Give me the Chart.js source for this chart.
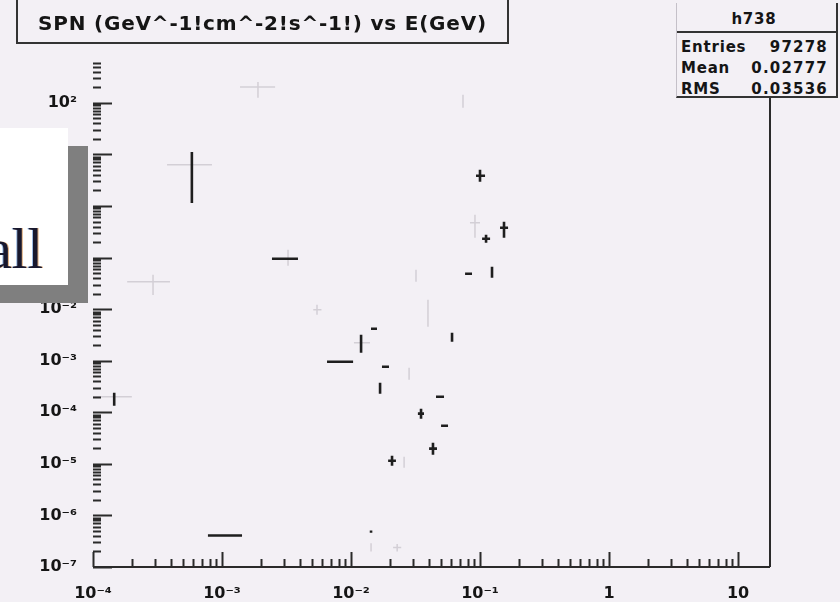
<!DOCTYPE html>
<html>
<head>
<meta charset="utf-8">
<script src="https://cdn.jsdelivr.net/npm/chart.js@4.4.0/dist/chart.umd.min.js"></script>
<style>
  html, body { margin: 0; padding: 0; background: #f3f0f5; }
  #wrap { position: relative; width: 840px; height: 602px; overflow: hidden; background: #f3f0f5; }
  #chart { position: absolute; left: 0; top: 0; }
  .txt { position: absolute; font-family: "DejaVu Sans", sans-serif; font-weight: bold; color: #151515; white-space: nowrap; }
  #title { position: absolute; left: 16px; top: 0; width: 489px; height: 42px; border-left: 2px solid #333; border-right: 2px solid #333; border-bottom: 2px solid #333; }
  #titleText { left: 0; width: 489px; top: 12px; font-size: 20px; letter-spacing: 0.8px; text-align: center; line-height: 22px; }
  #stats { position: absolute; left: 676px; top: 3px; width: 159px; height: 93px; border-left: 1px solid #c4c0c8; border-right: 2px solid #333; border-bottom: 2px solid #333; background: #f3f0f5; }
  #statsLine { position: absolute; left: 0; top: 28px; width: 159px; height: 0; border-top: 2px solid #333; }
  .sl { left: 4px; font-size: 15px; line-height: 16px; letter-spacing: 0.8px; }
  .sv { right: 8px; font-size: 15px; line-height: 16px; letter-spacing: 1.2px; }
  #box { position: absolute; left: -20px; top: 128px; width: 88px; height: 157px; background: #ffffff; box-shadow: 20px 18px 0 #7f7f7f; }
  #all { position: absolute; left: -13px; top: 221px; font-family: "Liberation Serif", "Times New Roman", serif; font-size: 56px; line-height: 56px; color: #18182e; text-shadow: 1px 0 0 rgba(200,120,40,0.6), -1px 0 0 rgba(60,120,200,0.5); }
</style>
</head>
<body>
<div id="wrap">
  <canvas id="chart" width="840" height="602"></canvas>
  <div id="title"><div class="txt" id="titleText">SPN (GeV^-1!cm^-2!s^-1!) vs E(GeV)</div></div>
  <div id="stats">
    <div class="txt" style="left:0;width:154px;text-align:center;top:8px;font-size:15px;line-height:16px;letter-spacing:0.8px;">h738</div>
    <div id="statsLine"></div>
    <div class="txt sl" style="top:36px;">Entries</div><div class="txt sv" style="top:36px;">97278</div>
    <div class="txt sl" style="top:57px;">Mean</div><div class="txt sv" style="top:57px;">0.02777</div>
    <div class="txt sl" style="top:78px;">RMS</div><div class="txt sv" style="top:78px;">0.03536</div>
  </div>
  <div id="box"></div>
  <div id="all">all</div>
</div>
<script>
// ---------------- DATA ----------------
// dark (well printed) marks: bin centre, bin edges, value, error range
const darkE      = [5.84e-4, 3.25e-3, 8.22e-3, 0.01197, 0.01508, 0.01837, 0.0168, 0.0807, 0.1239, 0.0607, 0.049, 0.0349, 0.0526, 0.0432, 0.0208, 0.1, 0.1114, 0.1535, 1.46e-4, 1.05e-3, 0.0143];
const darkELo    = [5.84e-4, 2.44e-3, 6.52e-3, 0.01197, 0.01429, 0.01738, 0.0168, 0.0766, 0.1239, 0.0607, 0.0456, 0.033, 0.0499, 0.0403, 0.0194, 0.0931, 0.1038, 0.143, 1.46e-4, 7.78e-4, 0.0143];
const darkEHi    = [5.84e-4, 3.88e-3, 0.01038, 0.01197, 0.0159, 0.0197, 0.0168, 0.0867, 0.1239, 0.0607, 0.0526, 0.0368, 0.0565, 0.0464, 0.0223, 0.1094, 0.1197, 0.165, 1.46e-4, 1.43e-3, 0.0143];
const darkFlux   = [6.3, 0.0948, 9.57e-4, 2.23e-3, 4.17e-3, 7.66e-4, 3.0e-4, 0.0485, 0.0531, 2.92e-3, 2.0e-4, 9.4e-5, 5.5e-5, 1.97e-5, 1.15e-5, 3.85, 0.231, 0.378, 2.0e-4, 4.07e-7, 4.85e-7];
const darkFluxLo = [1.15, 0.0948, 9.57e-4, 1.43e-3, 4.17e-3, 7.66e-4, 2.29e-4, 0.0485, 0.0406, 2.33e-3, 2.0e-4, 7.5e-5, 5.5e-5, 1.51e-5, 9.2e-6, 2.94, 0.194, 0.242, 1.34e-4, 4.07e-7, 4.6e-7];
const darkFluxHi = [11.2, 0.0948, 9.57e-4, 3.19e-3, 4.17e-3, 7.66e-4, 3.75e-4, 0.0485, 0.0664, 3.49e-3, 2.0e-4, 1.17e-4, 5.5e-5, 2.58e-5, 1.44e-5, 5.03, 0.277, 0.494, 2.4e-4, 4.07e-7, 5.1e-7];

// faint (barely printed) marks
const faintE      = [5.84e-4, 3.25e-3, 1.9e-3, 0.01197, 0.0282, 0.0319, 0.0258, 5.45e-3, 0.0395, 0.0738, 0.0914, 1.46e-4, 2.92e-4, 0.0228, 0.0143];
const faintELo    = [3.75e-4, 3.25e-3, 1.38e-3, 0.01054, 0.0282, 0.0319, 0.0258, 5.1e-3, 0.0395, 0.0738, 0.0836, 1.0e-4, 1.84e-4, 0.0212, 0.0143];
const faintEHi    = [8.36e-4, 3.25e-3, 2.58e-3, 0.01403, 0.0282, 0.0319, 0.0258, 5.9e-3, 0.0395, 0.0738, 0.1, 2.0e-4, 3.95e-4, 0.0245, 0.0143];
const faintFlux   = [6.3, 0.0948, 204, 2.23e-3, 5.6e-4, 0.0443, 1.1e-5, 9.7e-3, 8.5e-3, 109, 0.472, 2.0e-4, 0.034, 2.38e-7, 2.4e-7];
const faintFluxLo = [6.3, 0.0693, 125, 2.23e-3, 4.28e-4, 0.034, 8.4e-6, 7.8e-3, 4.56e-3, 80, 0.242, 2.0e-4, 0.0189, 2.0e-7, 2.0e-7];
const faintFluxHi = [6.3, 0.1416, 255, 2.23e-3, 7.3e-4, 0.058, 1.38e-5, 0.0122, 0.0152, 143, 0.675, 2.0e-4, 0.0464, 2.8e-7, 2.9e-7];

const xDecades = [-4, -3, -2, -1, 0, 1];
const xLabels  = ["10\u207B\u2074", "10\u207B\u00B3", "10\u207B\u00B2", "10\u207B\u00B9", "1", "10"];
const yDecades = [-7, -6, -5, -4, -3, -2, -1, 0, 1, 2];
const yLabels  = ["10\u207B\u2077", "10\u207B\u2076", "10\u207B\u2075", "10\u207B\u2074", "10\u207B\u00B3", "10\u207B\u00B2", "10\u207B\u00B9", "10\u2070", "10\u00B9", "10\u00B2"];

// ---------------- HELPERS ----------------
// every mark becomes two segments (bin width and error bar), split by a gap
function crosses(e, eLo, eHi, f, fLo, fHi) {
    const pts = [];
    e.forEach((c, i) => {
        if (eLo[i] < eHi[i]) {
            pts.push({x: eLo[i], y: f[i]}, {x: eHi[i], y: f[i]}, {x: c, y: null});
        }
        if (fLo[i] < fHi[i]) {
            pts.push({x: c, y: fLo[i]}, {x: c, y: fHi[i]}, {x: c, y: null});
        }
    });
    return pts;
}

function tickValues(fromExp, toExp, max) {
    const out = [];
    for (let k = fromExp; k <= toExp; k++) {
        for (let m = 1; m <= 9; m++) {
            const v = m * Math.pow(10, k);
            if (v <= max * 1.0001) out.push({value: v});
        }
    }
    return out;
}

function decadeLabel(v, decades, labels) {
    const k = Math.log10(v);
    const i = decades.findIndex(d => Math.abs(d - k) < 1e-6);
    return i >= 0 ? labels[i] : "";
}

const isDecade = v => Math.abs(Math.log10(v) - Math.round(Math.log10(v))) < 1e-6;

// ---------------- FRAME + INWARD TICKS ----------------
const frame = {
    id: "frame",
    afterDatasetsDraw(chart) {
        const {ctx, chartArea: a} = chart;
        const xs = chart.scales.x, ys = chart.scales.y;
        ctx.save();
        ctx.strokeStyle = "#2a2a2a";
        ctx.lineWidth = 2;
        ctx.beginPath();
        ctx.moveTo(a.left, a.bottom); ctx.lineTo(a.right, a.bottom);
        ctx.moveTo(a.right, a.bottom); ctx.lineTo(a.right, a.top);
        ctx.stroke();

        ctx.beginPath();
        xs.ticks.forEach(t => {
            const px = Math.round(xs.getPixelForValue(t.value)) + 0.5;
            const len = isDecade(t.value) ? 15 : 8;
            ctx.moveTo(px, a.bottom); ctx.lineTo(px, a.bottom - len);
        });
        ys.ticks.forEach(t => {
            const py = Math.round(ys.getPixelForValue(t.value)) + 0.5;
            const len = isDecade(t.value) ? 19 : 8;
            ctx.moveTo(a.left, py); ctx.lineTo(a.left + len, py);
        });
        ctx.stroke();
        ctx.restore();
    }
};

// ---------------- CHART ----------------
const xMax = 17.7, yMax = 620;

new Chart(document.getElementById("chart"), {
    type: "scatter",
    data: {
        datasets: [
            {
                label: "h738",
                data: crosses(darkE, darkELo, darkEHi, darkFlux, darkFluxLo, darkFluxHi),
                showLine: true,
                spanGaps: false,
                borderColor: "#1e1e1e",
                borderWidth: 2.6,
                pointRadius: 0,
                order: 0
            },
            {
                label: "h738 faint",
                data: crosses(faintE, faintELo, faintEHi, faintFlux, faintFluxLo, faintFluxHi),
                showLine: true,
                spanGaps: false,
                borderColor: "#d3cfd6",
                borderWidth: 1.5,
                pointRadius: 0,
                order: 1
            }
        ]
    },
    options: {
        responsive: false,
        animation: false,
        layout: {padding: {top: 62, right: 70, left: 0, bottom: 0}},
        plugins: {legend: {display: false}, tooltip: {enabled: false}},
        scales: {
            x: {
                type: "logarithmic",
                min: 1e-4,
                max: xMax,
                grid: {display: false},
                border: {display: false},
                afterBuildTicks: s => { s.ticks = tickValues(-4, 1, xMax); },
                afterFit: s => { s.height = 35; },
                ticks: {
                    autoSkip: false,
                    maxRotation: 0,
                    padding: 9,
                    color: "#151515",
                    font: {family: "DejaVu Sans", weight: "bold", size: 16},
                    callback: v => decadeLabel(v, xDecades, xLabels)
                }
            },
            y: {
                type: "logarithmic",
                min: 1e-7,
                max: yMax,
                grid: {display: false},
                border: {display: false},
                afterBuildTicks: s => { s.ticks = tickValues(-7, 2, yMax); },
                afterFit: s => { s.width = 93; },
                ticks: {
                    autoSkip: false,
                    padding: 8,
                    color: "#151515",
                    font: {family: "DejaVu Sans", weight: "bold", size: 16},
                    callback: v => decadeLabel(v, yDecades, yLabels)
                }
            }
        }
    },
    plugins: [frame]
});
</script>
</body>
</html>
